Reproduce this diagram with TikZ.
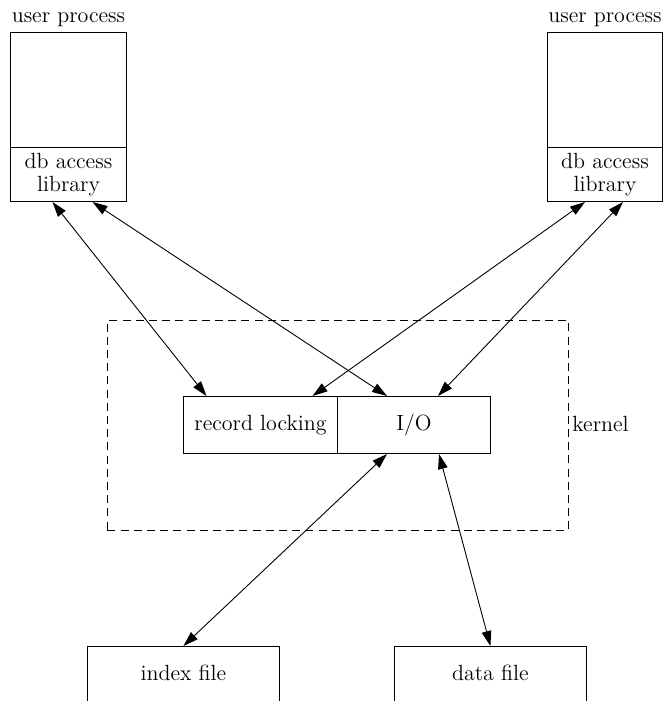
\documentclass[tikz,border=0pt]{standalone}
\usetikzlibrary{arrows.meta,calc}
\begin{document}
\begin{tikzpicture}[x=0.5pt,y=-0.5pt,
  every node/.style={font=\fontsize{11}{13}\selectfont},
  box/.style={draw,line width=0.5pt,inner sep=0pt,anchor=north west,align=center},
  conn/.style={line width=0.45pt,{Triangle[length=7.5pt,width=4.8pt]}-{Triangle[length=7.5pt,width=4.8pt]}},
  kbox/.style={draw,dashed,dash pattern=on 4pt off 2.6pt,line width=0.45pt}]
\useasboundingbox (0,0) rectangle (663,701);
% user processes
\node[box,minimum width=58pt,minimum height=57.5pt] (up1) at (10,32) {};
\node[box,minimum width=58pt,minimum height=27pt] (lib1) at (10,147) {db access\\[-1.5pt]library};
\node[anchor=base] (up1l) at ([yshift=4.5pt]up1.north) {user process};
\node[box,minimum width=57.5pt,minimum height=57.5pt] (up2) at (547,32) {};
\node[box,minimum width=57.5pt,minimum height=27pt] (lib2) at (547,147) {db access\\[-1.5pt]library};
\node[anchor=base] (up2l) at ([yshift=4.5pt]up2.north) {user process};
% kernel
\node[kbox,inner sep=0pt,minimum width=230.5pt,minimum height=105pt,anchor=north west] (kern) at (107,320) {};
\node[anchor=west,inner sep=0pt] (kl) at (572,424) {kernel};
\node[box,minimum width=77pt,minimum height=28.5pt] (rl) at (183,396) {record locking};
\node[box,minimum width=76.5pt,minimum height=28.5pt] (io) at (337,396) {I/O};
% files (bottom edge cut off)
\node[inner sep=0pt,minimum width=96pt,minimum height=26pt,anchor=north west] (idx) at (87,646) {index file};
\node[inner sep=0pt,minimum width=96pt,minimum height=26pt,anchor=north west] (dat) at (394,646) {data file};
\draw[line width=0.5pt] ([yshift=-4pt]idx.south west) -- (idx.north west) -- (idx.north east) -- ([yshift=-4pt]idx.south east);
\draw[line width=0.5pt] ([yshift=-4pt]dat.south west) -- (dat.north west) -- (dat.north east) -- ([yshift=-4pt]dat.south east);
% connectors
\draw[conn] ([xshift=-8pt]lib1.south) -- ([xshift=-27pt]rl.north);
\draw[conn] ([xshift=12pt]lib1.south) -- ([xshift=-13.5pt]io.north);
\draw[conn] ([xshift=-10pt]lib2.south) -- ([xshift=26pt]rl.north);
\draw[conn] ([xshift=9pt]lib2.south) -- ([xshift=12pt]io.north);
\draw[conn] ([xshift=-13.5pt]io.south) -- (idx.north);
\draw[conn] ([xshift=12.5pt]io.south) -- (dat.north);
\end{tikzpicture}
\end{document}
